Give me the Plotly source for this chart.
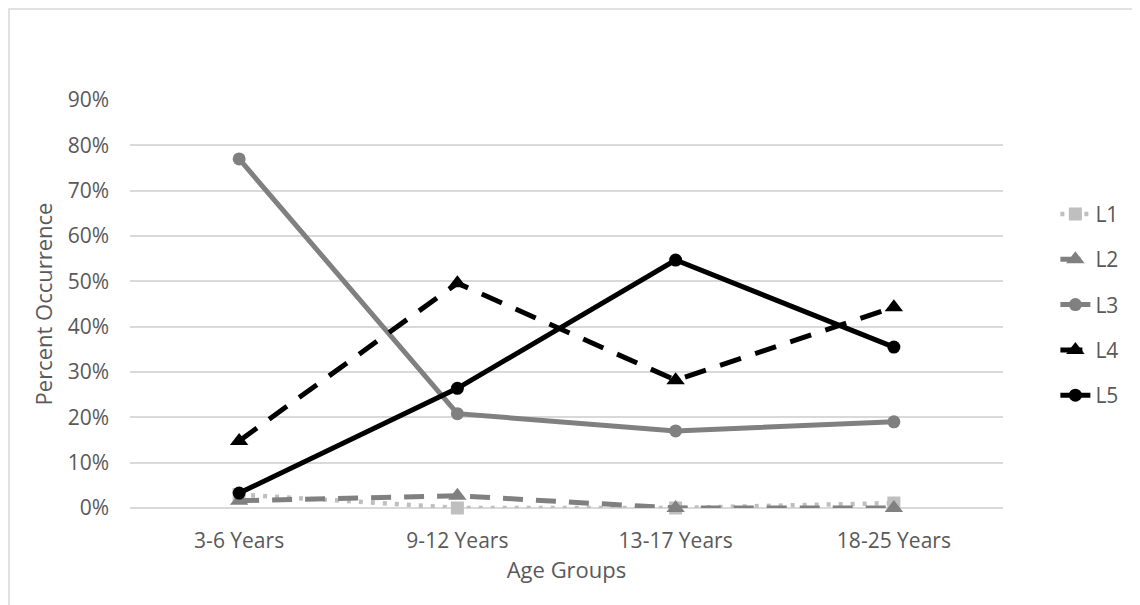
import plotly.graph_objects as go

categories = ["3-6 Years", "9-12 Years", "13-17 Years", "18-25 Years"]
L1 = [0.03, 0.0, 0.0, 0.011]
L2 = [0.016, 0.027, 0.0, 0.0]
L3 = [0.77, 0.208, 0.17, 0.19]
L4 = [0.148, 0.496, 0.282, 0.443]
L5 = [0.033, 0.264, 0.547, 0.355]
y_ticks = [0, 0.1, 0.2, 0.3, 0.4, 0.5, 0.6, 0.7, 0.8, 0.9]

FONT = "Open Sans"
TXT = "#595959"

series = [
    ("L1", L1, "#BFBFBF", "4px,8px", "square", 4.5, 13),
    ("L2", L2, "#808080", "20px,13px", "triangle-up", 5, 16),
    ("L3", L3, "#808080", "solid", "circle", 5, 13),
    ("L4", L4, "#000000", "22px,15px", "triangle-up", 5, 16),
    ("L5", L5, "#000000", "solid", "circle", 5, 13),
]

fig = go.Figure()
for name, vals, col, dash, sym, w, ms in series:
    fig.add_trace(go.Scatter(
        x=categories, y=vals, name=name, mode="lines+markers",
        line=dict(color=col, width=w, dash=dash),
        marker=dict(symbol=sym, size=ms, color=col),
        legendgroup=name, cliponaxis=False,
    ))

fig.update_layout(
    width=1140, height=605,
    margin=dict(l=122, r=145, t=92, b=105),
    paper_bgcolor="white", plot_bgcolor="white",
    font=dict(family=FONT, color=TXT, size=21),
    showlegend=True,
    legend=dict(x=1.06, y=0.77, xanchor="left", yanchor="top",
                font=dict(size=21, color=TXT, family=FONT),
                tracegroupgap=15, bgcolor="rgba(0,0,0,0)"),
    xaxis=dict(title=dict(text="Age Groups", font=dict(size=22, color=TXT), standoff=2),
               tickfont=dict(size=21, color=TXT), showgrid=False,
               range=[-0.5, 3.5],
               showline=False, ticks="", ticklabelstandoff=18),
    yaxis=dict(title=dict(text="Percent Occurrence", font=dict(size=22, color=TXT), standoff=8),
               range=[0, 0.9], tickvals=y_ticks, tickformat=".0%",
               tickfont=dict(size=21, color=TXT),
               showgrid=True, gridcolor="#D9D9D9", gridwidth=1.5,
               zeroline=True, zerolinecolor="#D9D9D9", zerolinewidth=1.5,
               showline=False, ticks="", ticklabelstandoff=20),
    shapes=[dict(type="rect", xref="paper", yref="paper",
                 x0=-0.1386, x1=1.2, y0=-0.3, y1=1.223,
                 line=dict(color="#D9D9D9", width=1.5), layer="below")],
)

fig.write_html("out.html")
